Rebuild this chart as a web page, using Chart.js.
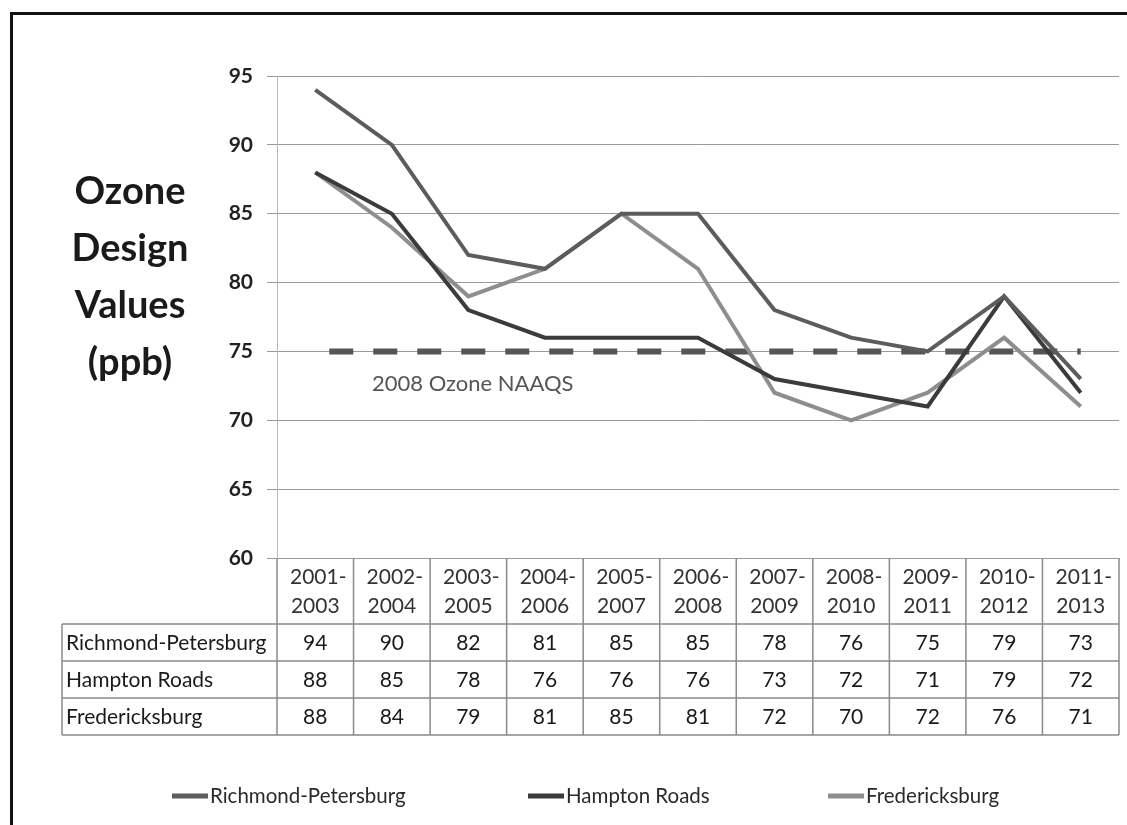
<!DOCTYPE html>
<html>
<head>
<meta charset="utf-8">
<title>Ozone Design Values</title>
<script src="https://cdn.jsdelivr.net/npm/chart.js@4.4.1/dist/chart.umd.min.js"></script>
<style>
  body { margin: 0; background: #fff; }
  #wrap { position: relative; width: 1127px; height: 825px; overflow: hidden; }
  #frame { position: absolute; left: 10px; top: 12px; width: 1300px; height: 1000px;
           border-left: 3px solid #111; border-top: 3px solid #111; }
  #myChart { position: absolute; left: 0; top: 0; }
</style>
</head>
<body>
<div id="wrap">
  <div id="frame"></div>
  <canvas id="myChart" width="1127" height="825"></canvas>
</div>
<script>
// data
const periods = ['2001-2003', '2002-2004', '2003-2005', '2004-2006', '2005-2007', '2006-2008',
                 '2007-2009', '2008-2010', '2009-2011', '2010-2012', '2011-2013'];
const richmond = [94, 90, 82, 81, 85, 85, 78, 76, 75, 79, 73];
const hampton = [88, 85, 78, 76, 76, 76, 73, 72, 71, 79, 72];
const fredericksburg = [88, 84, 79, 81, 85, 81, 72, 70, 72, 76, 71];
const naaqs = 75; // 2008 Ozone NAAQS, ppb
const yTicks = [60, 65, 70, 75, 80, 85, 90, 95];

const FONT = 'Lato, "Open Sans", sans-serif';

// title, NAAQS label, data table and legend drawn on top
const extras = {
  id: 'extras',
  afterDraw(chart) {
    const ctx = chart.ctx;
    const x = chart.scales.x;
    const y = chart.scales.y;
    const area = chart.chartArea;
    ctx.save();

    // y title
    ctx.fillStyle = '#1a1a1a';
    ctx.font = 'bold 38px ' + FONT;
    ctx.textAlign = 'center';
    ctx.textBaseline = 'middle';
    ['Ozone', 'Design', 'Values', '(ppb)'].forEach((t, i) => {
      ctx.fillText(t, 130, 192 + i * 57);
    });

    // NAAQS label
    ctx.fillStyle = '#555';
    ctx.font = '22px ' + FONT;
    ctx.textAlign = 'left';
    ctx.fillText('2008 Ozone NAAQS', 372, y.getPixelForValue(naaqs) + 32);

    // data table
    const colW = (area.right - area.left) / periods.length;
    const top = area.bottom;
    const headH = 66, rowH = 37;
    const labelLeft = 62;
    const rows = chart.data.datasets.filter(d => !d.isRef);
    const bottom = top + headH + rowH * rows.length;

    ctx.strokeStyle = '#8a8a8a';
    ctx.lineWidth = 1.5;
    ctx.beginPath();
    for (let i = 0; i <= periods.length; i++) {
      const cx = area.left + i * colW;
      ctx.moveTo(cx, top);
      ctx.lineTo(cx, bottom);
    }
    for (let r = 0; r <= rows.length; r++) {
      const ry = top + headH + r * rowH;
      ctx.moveTo(labelLeft, ry);
      ctx.lineTo(area.right, ry);
    }
    ctx.moveTo(labelLeft, top + headH);
    ctx.lineTo(labelLeft, bottom);
    ctx.stroke();

    ctx.font = '21px ' + FONT;
    ctx.textBaseline = 'middle';
    periods.forEach((p, i) => {
      const cx = x.getPixelForValue(i);
      const parts = p.split('-');
      ctx.textAlign = 'center';
      ctx.fillStyle = '#333';
      ctx.fillText(parts[0] + '-', cx + 3, top + 19);
      ctx.fillText(parts[1], cx, top + 48);
      ctx.fillStyle = '#1a1a1a';
      rows.forEach((d, r) => {
        ctx.fillText(String(d.data[i]), cx, top + headH + r * rowH + rowH / 2 + 1);
      });
    });
    ctx.textAlign = 'left';
    rows.forEach((d, r) => {
      ctx.fillText(d.label, labelLeft + 4, top + headH + r * rowH + rowH / 2 + 1);
    });

    // legend
    const legendX = [172, 528, 828];
    const legendY = 796;
    ctx.font = '20.5px ' + FONT;
    rows.forEach((d, r) => {
      ctx.strokeStyle = d.borderColor;
      ctx.lineWidth = 5;
      ctx.beginPath();
      ctx.moveTo(legendX[r], legendY);
      ctx.lineTo(legendX[r] + 36, legendY);
      ctx.stroke();
      ctx.fillStyle = '#2a2a2a';
      ctx.fillText(d.label, legendX[r] + 38, legendY);
    });

    ctx.restore();
  }
};

const ctx = document.getElementById('myChart').getContext('2d');

new Chart(ctx, {
  type: 'line',
  data: {
    labels: periods,
    datasets: [
      {
        label: 'Richmond-Petersburg',
        data: richmond,
        borderColor: '#5c5c5c',
        borderWidth: 4,
        pointRadius: 0,
        tension: 0
      },
      {
        label: 'Hampton Roads',
        data: hampton,
        borderColor: '#3b3b3b',
        borderWidth: 4,
        pointRadius: 0,
        tension: 0
      },
      {
        label: 'Fredericksburg',
        data: fredericksburg,
        borderColor: '#8e8e8e',
        borderWidth: 4,
        pointRadius: 0,
        tension: 0
      },
      {
        label: '2008 Ozone NAAQS',
        isRef: true,
        data: periods.map(() => naaqs),
        borderColor: '#555',
        borderWidth: 6,
        borderDash: [24, 20],
        borderDashOffset: 30,
        borderCapStyle: 'butt',
        pointRadius: 0
      }
    ]
  },
  options: {
    responsive: false,
    animation: false,
    layout: { padding: { left: 0, right: 8, top: 76, bottom: 0 } },
    plugins: {
      legend: { display: false },
      tooltip: { enabled: false }
    },
    scales: {
      x: {
        offset: true,
        grid: { display: false },
        border: { display: false },
        ticks: { display: false },
        afterFit: (scale) => { scale.height = 267; }
      },
      y: {
        min: 60,
        max: 95,
        afterBuildTicks: (scale) => { scale.ticks = yTicks.map(v => ({ value: v })); },
        grid: { color: '#9a9a9a', lineWidth: 1, tickLength: 10 },
        border: { display: true, color: '#b8b8b8' },
        ticks: {
          padding: 14,
          color: '#222',
          font: { family: FONT, size: 21, weight: 'bold' }
        },
        afterFit: (scale) => { scale.width = 277; }
      }
    }
  },
  plugins: [extras]
});
</script>
</body>
</html>
